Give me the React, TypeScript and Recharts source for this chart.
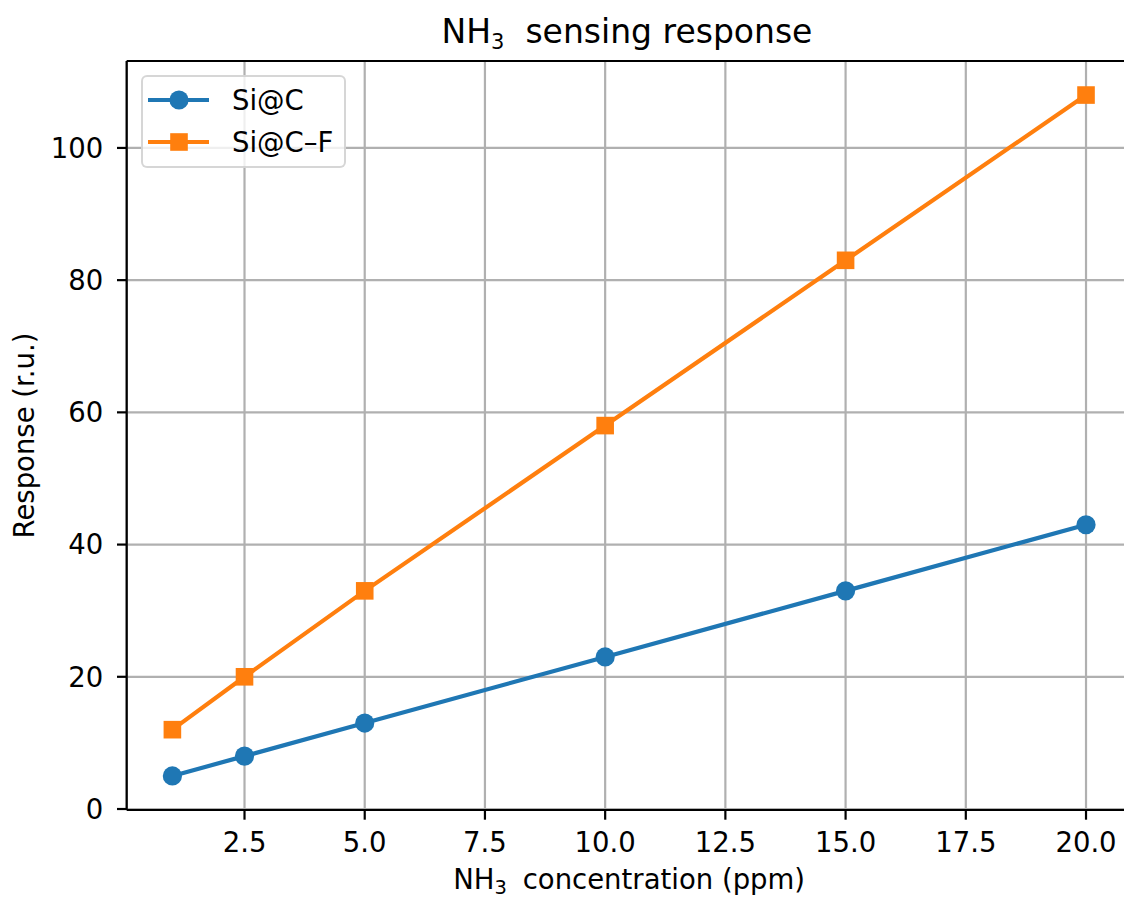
import React from "react";
import {
  LineChart,
  Line,
  XAxis,
  YAxis,
  CartesianGrid,
  ReferenceLine,
} from "recharts";

const concentrations = [1, 2.5, 5, 10, 15, 20];
const siC = [5, 8, 13, 23, 33, 43];
const siCF = [12, 20, 33, 58, 83, 108];
const seriesNames = ["Si@C", "Si@C–F"];
const xTicks = [2.5, 5, 7.5, 10, 12.5, 15, 17.5, 20];
const yTicks = [0, 20, 40, 60, 80, 100];

const data = concentrations.map((c, i) => ({ c, a: siC[i], b: siCF[i] }));

const FONT = "DejaVu Sans, sans-serif";
const BLUE = "#1f77b4";
const ORANGE = "#ff7f0e";
const FS = 27.5;

const Square = (props: any) => {
  const { cx, cy } = props;
  if (cx == null || cy == null) return null;
  return <rect x={cx - 8.8} y={cy - 8.8} width={17.6} height={17.6} fill={ORANGE} />;
};

const Dot = (props: any) => {
  const { cx, cy } = props;
  if (cx == null || cy == null) return null;
  return <circle cx={cx} cy={cy} r={9.6} fill={BLUE} />;
};

const tickStyle = { fill: "#000", fontSize: FS, fontFamily: FONT };

export default function App(): React.ReactElement {
  return (
    <div
      style={{
        position: "fixed",
        left: 0,
        top: 0,
        width: 1124,
        height: 898,
        overflow: "hidden",
        background: "#fff",
      }}
    >
      <LineChart
        width={1140}
        height={898}
        data={data}
        margin={{ top: 61, right: 8.3, bottom: 58, left: 66.7 }}
      >
        <CartesianGrid stroke="#b0b0b0" strokeWidth={2.2} />
        <XAxis
          dataKey="c"
          type="number"
          domain={[0.05, 20.95]}
          ticks={xTicks}
          tickFormatter={(v: number) => v.toFixed(1)}
          height={30}
          tick={tickStyle}
          tickSize={9.7}
          tickMargin={12.5}
          axisLine={{ stroke: "#000", strokeWidth: 2.2 }}
          tickLine={{ stroke: "#000", strokeWidth: 2.2 }}
          label={{
            content: (p: any) => {
              const vb = p.viewBox;
              return (
                <text
                  x={vb.x + vb.width / 2}
                  y={889}
                  textAnchor="middle"
                  fontSize={FS}
                  fontFamily={FONT}
                  fill="#000"
                  style={{ whiteSpace: "pre" }}
                >
                  NH
                  <tspan fontSize={19.5} dy={5}>3</tspan>
                  <tspan dy={-5} dx={7}> concentration (ppm)</tspan>
                </text>
              );
            },
          }}
        />
        <YAxis
          type="number"
          domain={[-0.15, 113.15]}
          ticks={yTicks}
          width={60}
          tick={tickStyle}
          tickSize={9.7}
          tickMargin={13.7}
          axisLine={{ stroke: "#000", strokeWidth: 2.2 }}
          tickLine={{ stroke: "#000", strokeWidth: 2.2 }}
          label={{
            content: (p: any) => {
              const vb = p.viewBox;
              const cy = vb.y + vb.height / 2;
              return (
                <text
                  x={34}
                  y={cy}
                  textAnchor="middle"
                  fontSize={FS}
                  fontFamily={FONT}
                  fill="#000"
                  transform={`rotate(-90 34 ${cy})`}
                >
                  Response (r.u.)
                </text>
              );
            },
          }}
        />
        <ReferenceLine y={113.15} stroke="#000" strokeWidth={2.2} />
        <Line
          dataKey="a"
          name={seriesNames[0]}
          stroke={BLUE}
          strokeWidth={4.2}
          dot={<Dot />}
          activeDot={false}
          isAnimationActive={false}
        />
        <Line
          dataKey="b"
          name={seriesNames[1]}
          stroke={ORANGE}
          strokeWidth={4.2}
          dot={<Square />}
          activeDot={false}
          isAnimationActive={false}
        />
      </LineChart>

      <svg
        width={1124}
        height={60}
        style={{ position: "absolute", left: 0, top: 0 }}
      >
        <text
          x={627}
          y={43}
          textAnchor="middle"
          fontSize={33}
          fontFamily={FONT}
          fill="#000"
          style={{ whiteSpace: "pre" }}
        >
          NH
          <tspan fontSize={21} dy={6}>3</tspan>
          <tspan dy={-6}>{"  sensing response"}</tspan>
        </text>
      </svg>

      <div
        style={{
          position: "absolute",
          left: 141,
          top: 75,
          width: 205,
          height: 93,
          boxSizing: "border-box",
          border: "2px solid rgba(204,204,204,0.8)",
          borderRadius: 6,
          background: "rgba(255,255,255,0.8)",
        }}
      >
        <svg width={205} height={93} style={{ position: "absolute", left: -2, top: -2 }}>
          {seriesNames.map((name, i) => {
            const cy = 25 + i * 42;
            const color = i === 0 ? BLUE : ORANGE;
            return (
              <g key={name}>
                <line x1={7} x2={68} y1={cy} y2={cy} stroke={color} strokeWidth={4.2} />
                {i === 0 ? (
                  <circle cx={38} cy={cy} r={9.6} fill={color} />
                ) : (
                  <rect x={29.2} y={cy - 8.8} width={17.6} height={17.6} fill={color} />
                )}
                <text
                  x={91}
                  y={cy + 10}
                  fontSize={FS}
                  fontFamily={FONT}
                  fill="#000"
                >
                  {name}
                </text>
              </g>
            );
          })}
        </svg>
      </div>
    </div>
  );
}
